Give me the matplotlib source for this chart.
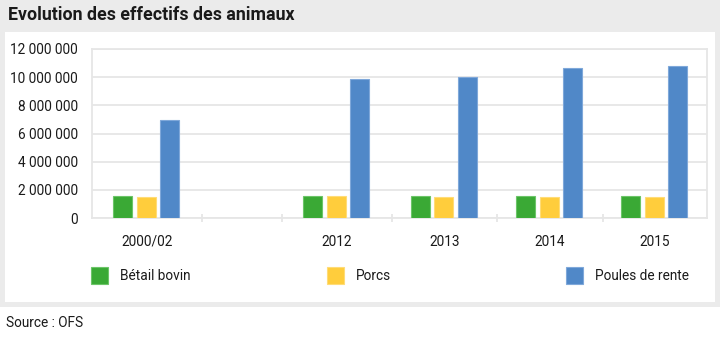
import matplotlib
matplotlib.use("Agg")
import matplotlib.pyplot as plt
from matplotlib.patches import Rectangle
from matplotlib.ticker import FuncFormatter, FixedLocator

# ---- data ----
categories = ['2000/02', '', '2012', '2013', '2014', '2015']
betail_bovin = [1588000, None, 1564000, 1557000, 1563000, 1555000]
porcs = [1498000, None, 1544000, 1468000, 1497000, 1496000]
poules_de_rente = [6960000, None, 9900000, 10030000, 10680000, 10820000]
series_names = ['Bétail bovin', 'Porcs', 'Poules de rente']
series_colors = ['#3aa935', '#ffcd3c', '#5088c8']
edge_colors = ['#6cc568', '#ffdc77', '#7fa8da']
y_ticks = [0, 2000000, 4000000, 6000000, 8000000, 10000000, 12000000]

W, H = 720, 338
fig = plt.figure(figsize=(W / 100, H / 100), dpi=100, facecolor='white')
plt.rcParams['font.family'] = ['Roboto', 'DejaVu Sans']

gray = '#ebebeb'
# background frame
for (x0, y0, w, h) in [(0, 0, W, 32), (0, 0, 5, 307), (715, 0, 5, 307), (0, 302, W, 5)]:
    fig.add_artist(Rectangle((x0 / W, 1 - (y0 + h) / H), w / W, h / H,
                             transform=fig.transFigure, facecolor=gray,
                             edgecolor='none', zorder=0))

fig.text(8 / W, 1 - 15 / H, 'Evolution des effectifs des animaux', fontsize=12.8,
         fontweight='bold', color='#1a1a1a', ha='left', va='center')
fig.text(6 / W, 1 - 323 / H, 'Source : OFS', fontsize=9.8, color='#1a1a1a',
         ha='left', va='center')

# axes
left, right, top, bottom = 92, 707, 49, 218
ax = fig.add_axes([left / W, 1 - bottom / H, (right - left) / W, (bottom - top) / H])
ax.set_facecolor('white')

# category slot widths (layout of the original, in pixels)
slot_w = [110, 80, 110, 105, 106, 104]
edges = [0]
for s in slot_w:
    edges.append(edges[-1] + s)
centers = [(edges[i] + edges[i + 1]) / 2 for i in range(len(slot_w))]
bar_w = 19
offsets = [-23.5, 0, 23.5]

all_series = [betail_bovin, porcs, poules_de_rente]
for k, vals in enumerate(all_series):
    xs = [centers[i] + offsets[k] - 1 for i, v in enumerate(vals) if v is not None]
    ys = [v for v in vals if v is not None]
    ax.bar(xs, ys, width=bar_w, color=series_colors[k], edgecolor=edge_colors[k],
           linewidth=0.8, zorder=3)

ax.set_xlim(edges[0], edges[-1])
ax.set_ylim(0, 12000000)
ax.yaxis.set_major_locator(FixedLocator(y_ticks))
ax.yaxis.set_major_formatter(FuncFormatter(lambda v, p: f"{int(v):,}".replace(',', ' ')))
ax.grid(axis='y', color='#e6e6e6', linewidth=1.3, zorder=0)
ax.set_axisbelow(True)
for sp in ax.spines.values():
    sp.set_color('#e6e6e6')
    sp.set_linewidth(1.3)
ax.tick_params(axis='y', length=0, pad=10, labelsize=9.8, labelcolor='#1a1a1a')

ax.set_xticks(centers)
ax.set_xticklabels(categories)
ax.set_xticks(edges[1:-1], minor=True)
ax.tick_params(axis='x', which='major', length=0, pad=12, labelsize=9.8, labelcolor='#1a1a1a')
ax.tick_params(axis='x', which='minor', length=6, width=1.3, color='#e6e6e6', direction='inout')

# legend (manual)
leg_x = [91, 327, 566]
for k, name in enumerate(series_names):
    fig.add_artist(Rectangle((leg_x[k] / W, 1 - 284 / H), 17 / W, 17 / H,
                             transform=fig.transFigure, facecolor=series_colors[k],
                             edgecolor=edge_colors[k], linewidth=0.8))
    fig.text((leg_x[k] + 29) / W, 1 - 276 / H, name, fontsize=9.8, color='#1a1a1a',
             ha='left', va='center')

fig.savefig('out.png', dpi=100, facecolor='white')
